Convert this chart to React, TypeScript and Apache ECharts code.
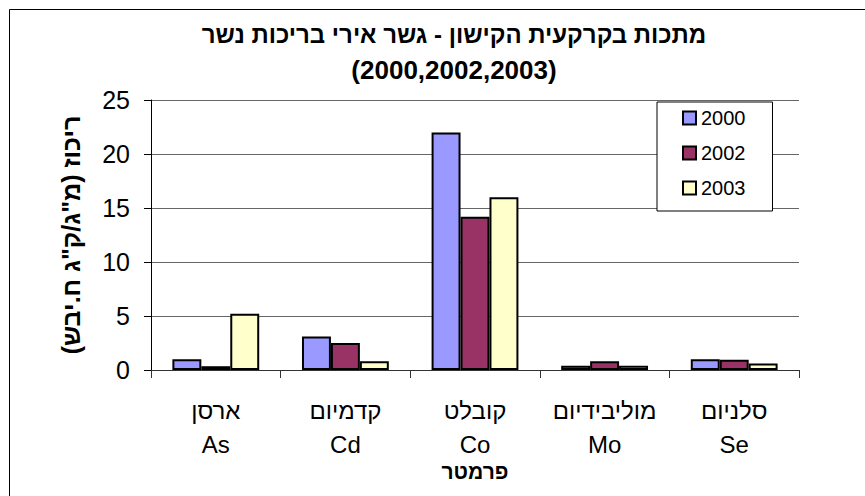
import React, { useEffect, useRef } from "react";
import * as echarts from "echarts";

const titleLine1 = "מתכות בקרקעית הקישון - גשר אירי בריכות נשר";
const titleLine2 = "(2000,2002,2003)";
const categories = ["ארסן\nAs", "קדמיום\nCd", "קובלט\nCo", "מוליבידיום\nMo", "סלניום\nSe"];
const seriesNames = ["2000", "2002", "2003"];
const values2000 = [1.0, 3.1, 22.0, 0.4, 1.0];
const values2002 = [0.35, 2.5, 14.2, 0.8, 0.95];
const values2003 = [5.2, 0.8, 16.0, 0.4, 0.6];
const seriesColors = ["#9999FF", "#993366", "#FFFFCC"];
const yAxisName = "ריכוז (מ\"ג/ק\"ג ח.יבש)\u200F";
const xAxisName = "פרמטר";

const FONT = "'Liberation Sans', Arial, 'DejaVu Sans', sans-serif";

export default function App() {
  const ref = useRef<HTMLDivElement>(null);
  useEffect(() => {
    if (!ref.current) return;
    const chart = echarts.init(ref.current, null, { renderer: "svg" });
    const allValues = [values2000, values2002, values2003];
    chart.setOption({
      animation: false,
      backgroundColor: "#ffffff",
      textStyle: { fontFamily: FONT, color: "#000" },
      title: {
        text: "{a|" + titleLine1 + "}\n{b|" + titleLine2 + "}",
        left: 454,
        top: 17,
        textAlign: "center",
        padding: 0,
        textStyle: {
          fontFamily: FONT,
          fontWeight: "bold",
          fontSize: 24,
          lineHeight: 35,
          color: "#000",
          rich: {
            a: { fontFamily: FONT, fontWeight: "bold", fontSize: 24, lineHeight: 35, color: "#000" },
            b: { fontFamily: FONT, fontWeight: "bold", fontSize: 26, lineHeight: 35, color: "#000" },
          },
        },
      },
      legend: {
        orient: "vertical",
        left: 657,
        top: 102,
        padding: [6, 27, 13, 25],
        itemGap: 15,
        itemWidth: 13,
        itemHeight: 13,
        borderColor: "#000",
        borderWidth: 1,
        borderRadius: 0,
        backgroundColor: "#fff",
        icon: "rect",
        textStyle: { fontFamily: FONT, fontSize: 20, color: "#000" },
        data: seriesNames,
      },
      graphic: [
        {
          type: "rect",
          shape: { x: 9.5, y: 9.5, width: 1000, height: 1000 },
          style: { fill: "none", stroke: "#000", lineWidth: 1 },
          silent: true,
          z: -1,
        },
      ],
      grid: { left: 151, top: 100, width: 648, height: 270 },
      xAxis: {
        type: "category",
        data: categories,
        name: xAxisName,
        nameLocation: "middle",
        nameGap: 91,
        nameMoveOverlap: false,
        nameTextStyle: { fontFamily: FONT, fontWeight: "bold", fontSize: 21, color: "#000" },
        axisLine: { show: true, lineStyle: { color: "#333", width: 1 } },
        axisTick: { show: true, length: 8, lineStyle: { color: "#333" } },
        axisLabel: {
          fontFamily: FONT,
          fontSize: 24,
          lineHeight: 34,
          color: "#000",
          margin: 23,
          interval: 0,
        },
        splitLine: { show: false },
      },
      yAxis: {
        type: "value",
        min: 0,
        max: 25,
        interval: 5,
        name: yAxisName,
        nameLocation: "middle",
        nameRotate: 90,
        nameGap: 68,
        nameMoveOverlap: false,
        nameTextStyle: { fontFamily: FONT, fontWeight: "bold", fontSize: 25, color: "#000" },
        axisLine: { show: true, lineStyle: { color: "#000", width: 1 } },
        axisTick: { show: true, length: 7, lineStyle: { color: "#000" } },
        axisLabel: { fontFamily: FONT, fontSize: 25, color: "#000", margin: 21 },
        splitLine: { show: true, lineStyle: { color: "#666", width: 1 } },
      },
      series: seriesNames.map((name, i) => ({
        name,
        type: "bar",
        data: allValues[i],
        barGap: "0%",
        barCategoryGap: "33%",
        itemStyle: { color: seriesColors[i], borderColor: "#000", borderWidth: 2 },
      })),
    });
    return () => chart.dispose();
  }, []);
  return (
    <div
      ref={ref}
      style={{ position: "absolute", left: 0, top: 0, width: 865, height: 496, background: "#fff" }}
    />
  );
}
